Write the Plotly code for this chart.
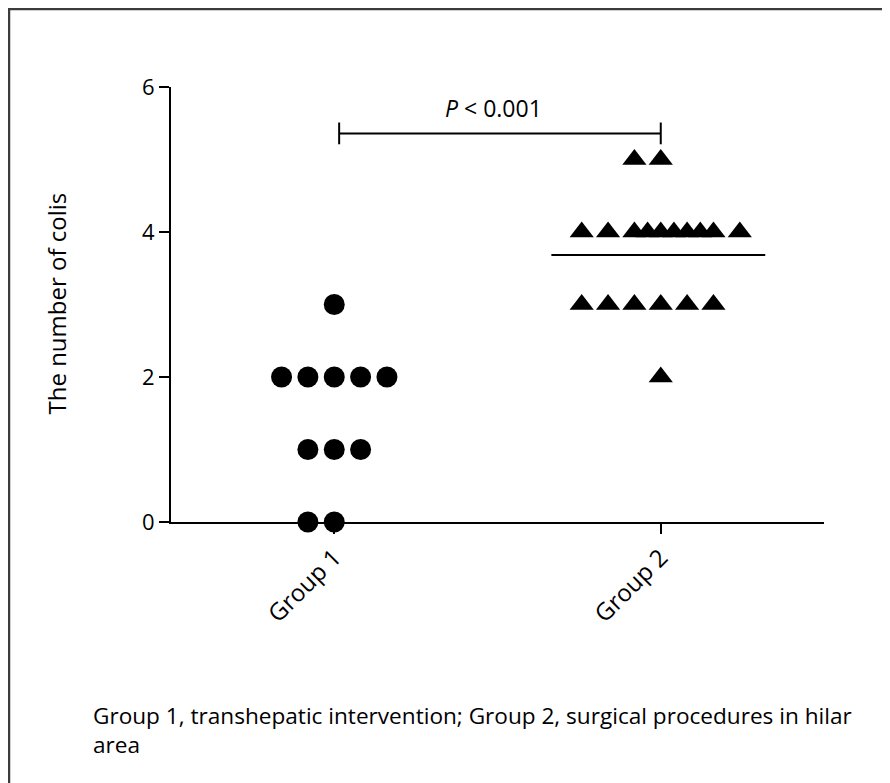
import plotly.graph_objects as go
from collections import Counter

# ---- data ----
groups = ["Group 1", "Group 2"]
group1_values = [3, 2, 2, 2, 2, 2, 1, 1, 1, 0, 0]
group2_values = [5, 5, 4, 4, 4, 4, 4, 4, 4, 4, 4, 4, 3, 3, 3, 3, 3, 3, 2]
y_ticks = [0, 2, 4, 6]
p_label = "<i>P</i> &lt; 0.001"
caption_lines = ["Group 1, transhepatic intervention; Group 2, surgical procedures in hilar",
                 "area"]
y_title = "The number of colis"

# ---- layout helpers (screen pixels; page body has an 8px margin) ----
OFF = 8
W, H = 890 - OFF, 783 - OFF
PLOT_L, PLOT_R, PLOT_T, PLOT_B = 171, 824, 87, 522  # screen px
ML = PLOT_L - OFF
MR = W - (PLOT_R - OFF)
MT = PLOT_T - OFF
MB = H - (PLOT_B - OFF)
SPACING = 0.0807  # horizontal spacing between stacked points (x units)


def slot_offsets(n, max_full=7):
    if n <= max_full:
        start = -(n // 2)
        return [start + i for i in range(n)]
    half = max_full // 2
    full = list(range(-half, half + 1))
    extras = [-0.5, 0.5, 1.5, -1.5, 2.5, -2.5]
    return sorted(full + extras[:n - max_full])


def spread(values, center):
    xs, ys = [], []
    counts = Counter(values)
    for v in sorted(counts, reverse=True):
        for off in slot_offsets(counts[v]):
            xs.append(center + off * SPACING)
            ys.append(v)
    return xs, ys


pw = PLOT_R - PLOT_L
ph = PLOT_B - PLOT_T


def sx(px):  # screen x -> paper x
    return (px - PLOT_L) / pw


def sy(py):  # screen y -> paper y
    return (PLOT_B - py) / ph


x1, y1 = spread(group1_values, 1)
x2, y2 = spread(group2_values, 2)

fig = go.Figure()
fig.add_trace(go.Scatter(x=x1, y=y1, mode="markers", cliponaxis=False,
                         marker=dict(symbol="circle", size=21, color="black"),
                         showlegend=False))
fig.add_trace(go.Scatter(x=x2, y=y2, mode="markers", cliponaxis=False,
                         marker=dict(symbol="triangle-up", size=21, color="black"),
                         showlegend=False))

# mean line for group 2
mean2 = sum(group2_values) / len(group2_values)
fig.add_shape(type="line", xref="x", yref="y", x0=2 - 0.335, x1=2 + 0.32,
              y0=mean2, y1=mean2, line=dict(color="black", width=2))

# significance bracket
yb = 5.36
fig.add_shape(type="line", xref="x", yref="y", x0=1.015, x1=2, y0=yb, y1=yb,
              line=dict(color="black", width=2))
for xe in (1.015, 2):
    fig.add_shape(type="line", xref="x", yref="y", x0=xe, x1=xe,
                  y0=yb - 0.15, y1=yb + 0.15, line=dict(color="black", width=2))
fig.add_annotation(x=sx(493), y=sy(108), xref="paper", yref="paper", text=p_label,
                   showarrow=False, xanchor="center", yanchor="middle",
                   font=dict(size=23, color="black"))

# y axis title
fig.add_annotation(x=sx(55.5), y=sy((195 + 413) / 2), xref="paper", yref="paper",
                   text=y_title, textangle=-90, showarrow=False,
                   xanchor="center", yanchor="middle",
                   font=dict(size=24, color="black"))

# caption
fig.add_annotation(x=sx(91), y=sy(698), xref="paper", yref="paper",
                   text="<br>".join(caption_lines), showarrow=False, align="left",
                   xanchor="left", yanchor="top",
                   font=dict(size=22.6, color="black"))

# page border (top and left)
fig.add_shape(type="line", xref="paper", yref="paper",
              x0=sx(OFF + 1), x1=sx(OFF + 1), y0=sy(OFF + 1), y1=sy(800),
              line=dict(color="#3c3c3c", width=2.5))
fig.add_shape(type="line", xref="paper", yref="paper",
              x0=sx(OFF), x1=sx(900), y0=sy(OFF + 1), y1=sy(OFF + 1),
              line=dict(color="#3c3c3c", width=2.5))

axis_common = dict(showline=True, linecolor="black", linewidth=2, ticks="outside",
                   ticklen=10, tickwidth=2, tickcolor="black", showgrid=False,
                   zeroline=False)

fig.update_layout(
    width=W, height=H,
    margin=dict(l=ML, r=MR, t=MT, b=MB, pad=0),
    paper_bgcolor="white", plot_bgcolor="white",
    font=dict(family="Open Sans", color="black"),
    xaxis=dict(range=[0.5, 2.5], tickvals=[1, 2], ticktext=groups, tickangle=-45,
               tickfont=dict(size=24, color="black"), **axis_common),
    yaxis=dict(range=[0, 6], tickvals=y_ticks,
               tickfont=dict(size=22, color="black"), **axis_common),
)

fig.write_html("out.html")
